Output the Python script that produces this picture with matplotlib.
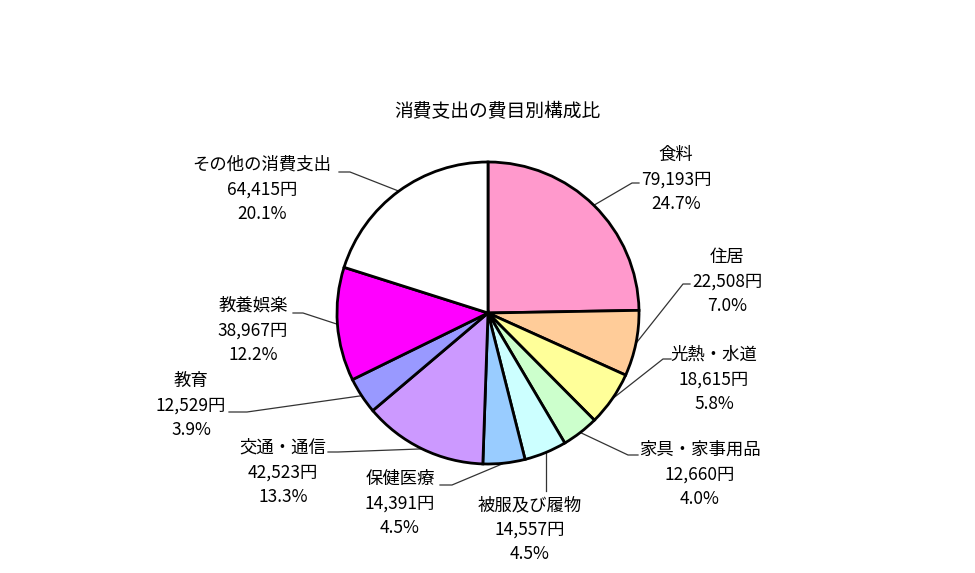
import numpy as np
import matplotlib
matplotlib.use("Agg")
import matplotlib.pyplot as plt

plt.rcParams['font.family'] = ['Noto Sans CJK JP', 'DejaVu Sans']

# data
categories = ["食料", "住居", "光熱・水道", "家具・家事用品", "被服及び履物",
              "保健医療", "交通・通信", "教育", "教養娯楽", "その他の消費支出"]
amounts = [79193, 22508, 18615, 12660, 14557, 14391, 42523, 12529, 38967, 64415]
percents = ["24.7%", "7.0%", "5.8%", "4.0%", "4.5%", "4.5%", "13.3%", "3.9%", "12.2%", "20.1%"]
colors = ["#FF99CC", "#FFCC99", "#FFFF99", "#CCFFCC", "#CCFFFF",
          "#99CCFF", "#CC99FF", "#9999FF", "#FF00FF", "#FFFFFF"]
title = "消費支出の費目別構成比"

W, H = 975, 573
cx, cy, r = 488, 313, 151

# label layout in pixel coords: text centre x, first line y, leader elbow, leader end
label_pos = [
    (676, 155, (632, 183), (639, 183)),
    (727, 257, (683, 284), (690, 284)),
    (714, 355, (663, 359), (671, 359)),
    (700, 450, (628, 455), (638, 455)),
    (530, 505, None, None),
    (400, 479, (452, 485), (440, 485)),
    (283, 448, (338, 452), (328, 452)),
    (191, 381, (247, 412), (229, 412)),
    (253, 306, (303, 313), (293, 313)),
    (262, 165, (350, 172), (339, 172)),
]

fig = plt.figure(figsize=(W / 100, H / 100), dpi=100)
ax = fig.add_axes([0, 0, 1, 1])
ax.axis("off")

wedges, _ = ax.pie(amounts, colors=colors, startangle=90, counterclock=False,
                   center=(cx, H - cy), radius=r,
                   wedgeprops=dict(edgecolor="black", linewidth=2))
ax.set_xlim(0, W)
ax.set_ylim(0, H)

ax.text(497, H - 112, title, ha="center", va="center", fontsize=13.5)

for i, w in enumerate(wedges):
    tx, ty, elbow, end = label_pos[i]
    lines = [categories[i], f"{amounts[i]:,}円", percents[i]]
    for k, s in enumerate(lines):
        ax.text(tx, H - (ty + k * 24.5), s, ha="center", va="center", fontsize=12.5)
    # leader starts at the wedge's mid angle on the rim
    mid = np.deg2rad((w.theta1 + w.theta2) / 2)
    ex = cx + r * np.cos(mid)
    ey = H - cy + r * np.sin(mid)
    if elbow is None:
        xs = [ex, ex]
        ys = [ey, H - 491]
    else:
        xs = [ex, elbow[0], end[0]]
        ys = [ey, H - elbow[1], H - end[1]]
    ax.plot(xs, ys, color="#333333", linewidth=0.9, zorder=0.5)

fig.savefig("out.png", dpi=100)
